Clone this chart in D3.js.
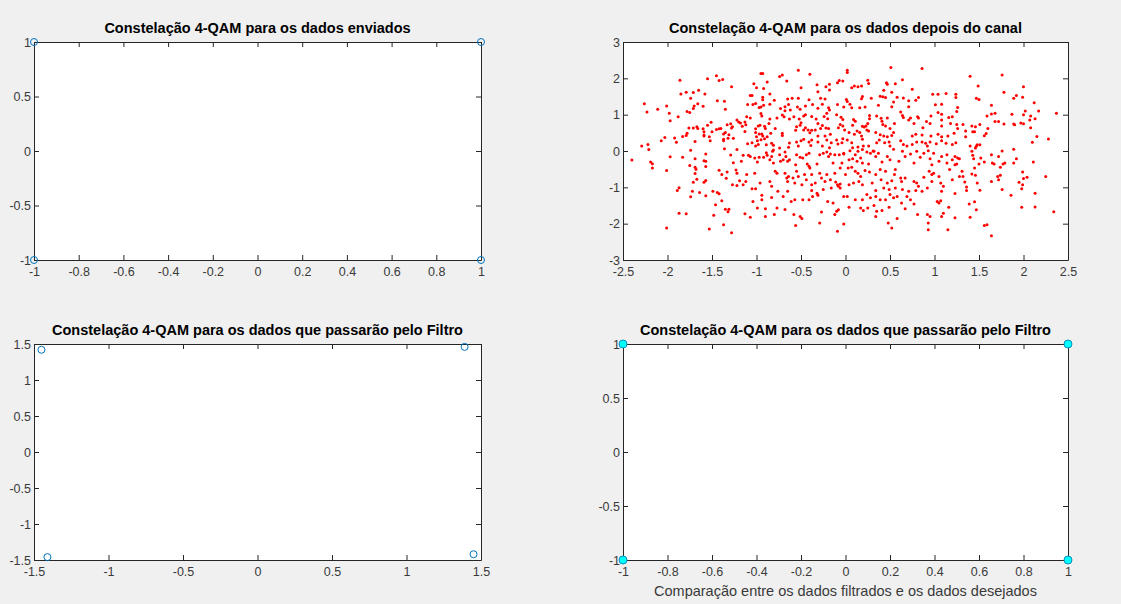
<!DOCTYPE html>
<html>
<head>
<meta charset="utf-8">
<script src="https://cdn.jsdelivr.net/npm/d3@7"></script>
<style>
body { margin: 0; background: #f0f0f0; }
svg text { font-family: "Liberation Sans", Arial, Helvetica, sans-serif; }
</style>
</head>
<body>
<script>
// dados enviados (4-QAM)
const sentI = [-1, 1, -1, 1];
const sentQ = [1, 1, -1, -1];

// dados que passarão pelo filtro
const filtI = [-1.45, 1.39, -1.41, 1.45];
const filtQ = [1.42, 1.46, -1.46, -1.42];

// dados filtrados (decisão)
const outI = [-1, 1, -1, 1];
const outQ = [1, 1, -1, -1];

// dados depois do canal [I, Q]
const canalPts = [
  [-1.86,1.95],[-1.55,1.99],[-1.45,2.07],[-1.42,1.94],[-1.38,1.97],[-1.28,1.77],
  [-1.85,1.57],[-1.79,1.62],[-1.71,1.61],[-1.65,1.67],[-1.58,1.57],
  [-1.74,1.45],[-1.44,1.38],[-1.36,1.37],
  [-2.26,1.30],[-2.01,1.24],[-2.23,1.07],[-2.11,1.15],[-1.98,1.04],[-1.88,0.94],[-1.78,1.09],[-1.75,1.06],[-1.71,1.17],[-1.70,1.24],[-1.66,1.30],[-1.60,1.23],[-1.35,1.15],
  [-1.97,0.83],
  [-1.55,0.71],[-1.51,0.79],[-1.76,0.63],[-1.71,0.63],[-1.67,0.67],[-1.66,0.62],[-1.60,0.61],[-1.59,0.53],[-1.59,0.44],[-1.50,0.53],[-1.45,0.59],[-1.42,0.61],[-1.40,0.62],[-1.33,0.72],[-1.29,0.75],[-1.28,0.63],[-1.27,0.67],
  [-1.78,0.49],[-1.79,0.43],[-1.83,0.40],[-1.92,0.36],[-2.03,0.37],[-2.07,0.28],[-1.90,0.24],[-1.69,0.26],[-1.59,0.41],[-1.53,0.39],[-1.52,0.28],[-1.37,0.47],[-1.35,0.51],[-1.31,0.45],[-1.37,0.32],[-1.37,0.28],[-1.32,0.35],[-1.26,0.35],
  [-2.29,0.14],[-2.22,0.18],[-2.21,0.04],[-1.74,0.02],[-1.36,0.06],
  [-2.40,-0.25],[-2.19,-0.30],[-2.17,-0.35],[-2.17,-0.47],[-1.97,-0.16],[-1.83,-0.17],[-1.57,-0.08],[-1.69,-0.21],[-1.59,-0.27],[-1.57,-0.28],[-1.29,-0.11],[-1.26,-0.32],
  [-2.01,-0.54],[-1.75,-0.40],[-1.69,-0.45],[-1.68,-0.50],[-1.69,-0.62],[-1.57,-0.43],[-1.67,-0.78],[-1.71,-0.86],[-1.59,-0.86],[-1.57,-0.81],[-1.42,-0.53],[-1.39,-0.65],[-1.33,-0.58],[-1.34,-0.75],[-1.27,-0.93],
  [-1.87,-1.01],[-1.89,-1.09],[-1.72,-1.11],[-1.64,-1.14],[-1.74,-1.26],[-1.57,-1.23],[-1.49,-1.11],[-1.44,-1.14],[-1.42,-1.18],[-1.39,-1.37],[-1.46,-1.48],
  [-1.35,-1.60],[-1.31,-1.60],[-1.32,-1.67],[-1.87,-1.71],[-1.79,-1.73],[-1.48,-1.77],[-1.37,-2.03],[-2.01,-2.12],[-1.53,-2.15],[-1.28,-2.25],
  [-0.53,2.22],[-0.40,2.11],[-0.93,2.13],[-0.95,2.13],[-0.71,2.09],[-0.74,2.05],[-0.66,1.93],[-0.88,1.90],[-1.03,1.85],[-1.00,1.74],[-0.92,1.72],[-0.50,1.74],[-0.32,1.82],[-0.22,1.77],[-0.18,1.84],[-0.07,1.94],[-0.09,1.88],[-0.03,1.93],
  [-1.07,1.53],[-1.05,1.53],[-0.85,1.57],[-0.93,1.48],[-0.93,1.41],[-0.80,1.40],[-0.65,1.43],[-0.60,1.45],[-0.53,1.45],[-0.31,1.63],[-0.41,1.41],[-0.28,1.45],[-0.23,1.43],[-0.18,1.68],
  [-1.10,1.28],[-1.04,1.28],[-1.01,1.31],[-0.97,1.20],[-0.95,1.21],[-0.92,1.26],[-0.85,1.29],[-0.64,1.28],[-0.68,1.22],[-0.73,1.17],[-0.68,1.11],[-0.62,1.13],[-0.54,1.21],[-0.51,1.15],[-0.45,1.24],[-0.37,1.28],[-0.31,1.18],[-0.26,1.29],[-0.19,1.19],[-0.18,1.13],[-0.09,1.28],
  [-1.22,0.85],[-1.20,0.80],[-1.18,0.77],[-1.13,0.80],[-1.11,0.94],[-1.07,0.91],[-0.95,1.03],[-0.94,0.96],[-0.85,0.88],[-0.86,0.76],[-0.77,0.91],[-0.71,0.99],[-0.69,0.94],[-0.63,0.88],[-0.58,0.94],[-0.52,0.88],[-0.47,0.96],[-0.45,1.00],[-0.38,0.95],[-0.33,0.88],[-0.24,0.95],[-0.21,1.04],[-0.20,0.89],[-0.10,1.00],[-0.05,0.93],[-0.03,0.87],
  [-1.16,0.68],[-1.12,0.72],[-1.13,0.54],[-1.01,0.61],[-1.01,0.51],[-0.98,0.69],[-0.96,0.71],[-0.91,0.68],[-0.90,0.62],[-1.00,0.39],[-0.97,0.47],[-0.94,0.47],[-0.99,0.28],[-0.95,0.31],[-0.93,0.41],[-0.91,0.34],[-0.88,0.39],[-0.79,0.62],[-0.84,0.49],[-0.71,0.49],[-0.71,0.43],[-0.55,0.67],[-0.51,0.71],[-0.50,0.78],[-0.56,0.57],[-0.47,0.58],[-0.45,0.64],[-0.42,0.58],[-0.40,0.50],[-0.38,0.57],[-0.34,0.58],[-0.31,0.76],[-0.28,0.62],[-0.26,0.70],[-0.22,0.63],[-0.19,0.62],[-0.17,0.46],[-0.08,0.64],[-0.06,0.73],[-0.03,0.69],[-0.01,0.58],
  [-1.10,0.20],[-1.05,0.23],[-1.01,0.14],[-0.98,0.18],[-0.89,0.17],[-0.83,0.21],[-0.81,0.16],[-0.81,0.03],[-0.74,0.08],[-0.63,0.22],[-0.64,0.10],[-0.55,0.25],[-0.53,0.14],[-0.50,0.28],[-0.47,0.32],[-0.41,0.25],[-0.39,0.15],[-0.38,0.30],[-0.31,0.41],[-0.31,0.25],[-0.26,0.14],[-0.23,0.41],[-0.21,0.30],[-0.18,0.09],[-0.16,0.23],[-0.10,0.30],[-0.085,0.19],[-0.03,0.34],
  [-1.22,0.04],[-1.15,-0.12],[-1.17,-0.28],[-1.23,-0.52],[-1.22,-0.61],[-1.09,-0.12],[-1.07,-0.15],[-1.02,-0.19],[-0.99,-0.30],[-0.97,-0.17],[-0.92,-0.17],[-0.89,-0.05],[-0.88,-0.12],[-0.85,-0.24],[-0.83,-0.15],[-0.82,-0.01],[-0.81,-0.33],[-0.79,-0.56],[-0.77,-0.61],[-0.74,-0.10],[-0.73,-0.28],[-0.70,-0.24],[-0.68,-0.03],[-0.67,-0.15],[-0.65,-0.28],[-0.63,-0.24],[-0.55,-0.10],[-0.56,-0.38],[-0.51,-0.17],[-0.48,-0.19],[-0.44,-0.10],[-0.41,-0.06],[-0.43,-0.36],[-0.41,-0.42],[-0.40,-0.47],[-0.38,-0.65],[-0.32,-0.36],[-0.29,-0.10],[-0.25,-0.06],[-0.21,-0.03],[-0.19,-0.15],[-0.17,-0.08],[-0.14,-0.33],[-0.12,-0.10],[-0.07,-0.10],[-0.04,-0.33],[-0.06,-0.47],[-0.02,-0.08],
  [-1.11,-0.65],[-1.12,-0.84],[-1.02,-0.61],[-1.19,-0.82],[-1.22,-0.95],[-1.15,-0.93],[-0.96,-0.88],[-1.05,-1.04],[-1.01,-1.04],[-0.85,-0.84],[-0.83,-0.97],[-0.68,-0.61],[-0.66,-0.74],[-0.65,-0.84],[-0.64,-0.70],[-0.59,-0.74],[-0.57,-0.88],[-0.55,-0.56],[-0.53,-0.70],[-0.49,-0.93],[-0.46,-0.65],[-0.44,-0.79],[-0.38,-0.93],[-0.34,-0.88],[-0.29,-0.61],[-0.27,-0.74],[-0.25,-1.06],[-0.23,-0.84],[-0.21,-0.65],[-0.17,-0.79],[-0.16,-1.02],[-0.12,-0.61],[-0.11,-0.85],[-0.09,-0.93],[-0.08,-0.97],[-0.06,-0.91],[-0.06,-1.02],[-0.02,-1.25],[-0.38,-1.09],[-0.32,-1.16],
  [-0.94,-1.22],[-0.94,-1.34],[-0.83,-1.28],[-0.76,-1.11],[-0.70,-1.25],[-0.65,-1.11],[-0.61,-1.39],[-0.57,-1.34],[-0.48,-1.34],[-0.41,-1.34],[-0.37,-1.25],[-0.31,-1.22],[-0.20,-1.39],[-0.14,-1.43],[-1.04,-1.39],[-0.99,-1.57],[-0.90,-1.59],[-0.77,-1.57],[-0.68,-1.61],[-1.13,-1.73],[-1.07,-1.82],[-0.90,-1.80],[-0.80,-1.75],[-0.58,-1.75],[-0.51,-1.80],[-0.49,-1.86],[-0.56,-2.05],[-0.29,-1.98],[-0.27,-1.68],[-0.12,-1.75],[-0.10,-1.66],[-0.08,-1.62],[-0.02,-2.01],[-0.09,-2.21],
  [0.51,2.30],[0.86,2.27],[0.02,2.22],[0.02,2.16],[0.25,1.95],[0.26,1.86],[0.46,1.88],[0.47,1.84],[0.56,1.85],[0.64,1.96],[0.10,1.79],[0.07,1.74],[0.14,1.77],[0.18,1.79],[0.43,1.67],[0.52,1.62],[0.75,1.70],[0.39,1.51],[0.42,1.49],[0.45,1.47],[0.19,1.50],[0.18,1.44],[0.29,1.45],[0.58,1.48],[0.65,1.46],[0.71,1.38],[0.79,1.40],[0.82,1.47],[0.98,1.56],[1.04,1.56],[1.13,1.58],[1.24,1.56],
  [0.01,1.42],[0.02,1.36],[0.05,1.29],[-0.02,1.21],[0.07,1.19],[0.16,1.19],[0.22,1.21],[0.37,1.26],[0.54,1.35],[0.52,1.22],[0.71,1.22],[1.01,1.27],[1.08,1.29],[0.62,1.07],[0.64,0.98],[0.73,0.91],[0.81,0.94],[0.96,0.96],[1.04,1.06],[1.08,1.01],[1.16,0.92],[1.20,0.94],[1.25,1.09],[1.26,1.20],
  [0.09,0.87],[0.11,0.82],[0.27,0.98],[0.27,0.89],[0.35,0.96],[0.40,0.90],[0.41,0.82],[0.47,0.91],[0.55,0.76],[0.25,0.76],[0.19,0.68],[0.21,0.66],[0.23,0.69],[0.24,0.58],[0.08,0.71],[0.04,0.51],[0.13,0.55],[0.10,0.46],[0.16,0.51],[0.18,0.41],[0.26,0.55],[0.34,0.51],[0.39,0.45],[0.42,0.73],[0.45,0.69],[0.50,0.62],[0.54,0.51],[0.43,0.41],[0.38,0.30],[0.47,0.39],[0.52,0.43],[0.65,0.92],[0.71,0.85],[0.77,0.76],[0.82,0.91],[0.91,0.81],[0.95,0.76],[1.08,0.85],[1.08,0.69],[1.18,0.76],[0.75,0.41],[0.79,0.46],[0.86,0.44],[0.87,0.64],[0.96,0.41],[1.04,0.46],[1.08,0.39],[1.15,0.41],[1.22,0.49],
  [-0.04,0.23],[0.02,0.30],[0.07,0.23],[0.08,0.09],[0.14,0.11],[0.19,0.32],[0.20,0.14],[0.26,0.14],[0.31,0.00],[0.35,0.23],[0.44,0.23],[0.49,0.25],[0.50,0.14],[0.54,0.05],[0.62,0.28],[0.65,0.18],[0.69,0.14],[0.75,0.18],[0.80,0.25],[0.86,0.25],[0.90,0.21],[0.92,0.14],[0.95,0.25],[1.02,0.20],[1.08,0.28],[1.13,0.21],[1.20,0.18],[1.24,0.23],
  [-0.02,-0.06],[0.05,0.01],[0.11,-0.10],[0.14,-0.01],[0.17,-0.19],[0.19,0.04],[0.24,-0.03],[0.28,-0.06],[0.32,-0.01],[0.34,-0.15],[0.04,-0.24],[0.08,-0.21],[0.13,-0.28],[0.19,-0.33],[0.03,-0.47],[0.07,-0.45],[0.26,-0.36],[0.37,-0.06],[0.41,-0.30],[0.47,-0.15],[0.50,-0.24],[0.60,-0.28],[0.64,-0.01],[0.67,-0.15],[0.73,-0.08],[0.77,-0.33],[0.80,-0.01],[0.84,-0.17],[0.88,-0.06],[0.93,0.01],[0.99,-0.06],[0.95,-0.21],[0.97,-0.38],[1.05,-0.28],[1.08,-0.15],[1.14,-0.10],[1.20,-0.24],[1.23,-0.15],[1.25,-0.36],[1.14,-0.33],
  [0.00,-0.65],[0.11,-0.56],[0.14,-0.61],[0.17,-0.70],[0.22,-0.54],[0.27,-0.58],[0.34,-0.65],[0.39,-0.51],[0.40,-0.79],[0.45,-0.56],[0.47,-0.88],[0.52,-0.82],[0.56,-0.51],[0.55,-0.65],[0.62,-0.74],[0.63,-0.84],[0.67,-0.74],[0.77,-0.84],[0.80,-0.88],[0.82,-0.97],[0.88,-0.72],[0.92,-1.02],[0.94,-0.56],[0.97,-0.65],[0.99,-0.61],[1.05,-0.70],[1.07,-0.88],[1.08,-1.11],[1.10,-0.97],[1.17,-0.51],[1.20,-0.79],[1.23,-0.38],[0.04,-0.93],[0.09,-0.88],[0.15,-0.84],[0.19,-0.93],[0.30,-0.88],[0.34,-1.09],[0.43,-1.02],[0.49,-1.06],[0.56,-1.02],[0.64,-1.06],[0.71,-1.11],[0.79,-1.09],[0.86,-1.11],[0.97,-0.84],
  [0.02,-1.25],[0.11,-1.34],[0.19,-1.34],[0.24,-1.20],[0.28,-1.29],[0.34,-1.25],[0.39,-1.34],[0.45,-1.34],[0.50,-1.20],[0.54,-1.29],[0.58,-1.25],[0.69,-1.25],[0.73,-1.34],[0.04,-1.55],[0.17,-1.57],[0.20,-1.64],[0.25,-1.57],[0.32,-1.50],[0.35,-1.66],[0.41,-1.64],[0.49,-1.55],[0.63,-1.43],[0.67,-1.59],[0.77,-1.46],[1.03,-1.39],[1.05,-1.43],[1.07,-1.37],[1.16,-1.55],[1.10,-1.71],[0.81,-1.75],[0.92,-1.75],[0.95,-1.80],[1.08,-1.80],[1.23,-1.84],[0.34,-1.80],[0.48,-1.98],[0.52,-2.12],[0.58,-1.86],[0.93,-1.98],[0.93,-2.17],[1.15,-2.17],
  [1.40,2.06],[1.76,2.09],[1.49,1.79],[1.78,1.62],[2.00,1.77],[1.24,1.47],[1.47,1.45],[1.50,1.42],[1.89,1.45],[1.92,1.53],[1.99,1.48],[1.64,1.26],[2.12,1.33],[2.02,1.10],[2.17,1.10],[2.37,1.04],[1.59,0.96],[1.64,1.02],[1.68,1.04],[1.87,1.01],[2.00,1.00],[2.08,0.96],[1.68,0.81],[1.72,0.81],[1.78,0.74],[1.89,0.74],[1.90,0.72],[1.97,0.77],[2.00,0.75],[2.07,0.85],[2.13,0.89],[1.25,0.73],[1.32,0.73],[1.26,0.62],[1.42,0.69],[1.46,0.67],[1.51,0.73],[1.60,0.62],[1.35,0.55],[1.43,0.53],[1.45,0.53],[1.58,0.48],[1.56,0.42],[1.35,0.39],[2.08,0.64],[2.15,0.40],[2.28,0.33],[1.40,0.14],[1.48,0.17],[1.51,0.17],[1.47,0.13],[1.76,0.00],[1.89,0.05],[2.10,0.24],
  [1.26,-0.19],[1.28,-0.21],[1.42,-0.01],[1.43,-0.12],[1.44,-0.21],[1.46,0.08],[1.52,-0.19],[1.50,-0.36],[1.56,-0.30],[1.64,-0.10],[1.65,-0.33],[1.67,-0.36],[1.72,-0.15],[1.77,-0.36],[1.74,-0.45],[1.79,-0.33],[1.89,-0.33],[1.92,-0.21],[2.11,-0.30],[1.31,-0.56],[1.28,-0.70],[1.32,-0.70],[1.42,-0.63],[1.45,-0.47],[1.46,-0.67],[1.34,-0.85],[1.48,-0.88],[1.36,-0.99],[1.36,-1.09],[1.51,-1.08],[1.64,-0.84],[1.71,-0.70],[1.74,-0.67],[1.72,-0.79],[1.76,-1.06],[1.99,-0.58],[1.95,-0.86],[1.99,-0.93],[2.00,-0.76],[2.04,-0.72],[1.98,-1.04],[2.25,-0.70],[1.86,-1.22],[2.13,-1.16],[1.23,-1.17],[1.39,-1.46],[1.45,-1.40],[1.47,-1.62],[1.40,-1.82],[1.98,-1.55],[2.13,-1.54],[2.34,-1.67],[1.56,-2.05],[1.59,-2.03],[1.64,-2.33]
];

// tick values
const ticks1x = [-1, -0.8, -0.6, -0.4, -0.2, 0, 0.2, 0.4, 0.6, 0.8, 1];
const ticks1y = [-1, -0.5, 0, 0.5, 1];
const ticksCx = [-2.5, -2, -1.5, -1, -0.5, 0, 0.5, 1, 1.5, 2, 2.5];
const ticksCy = [-3, -2, -1, 0, 1, 2, 3];
const ticks15 = [-1.5, -1, -0.5, 0, 0.5, 1, 1.5];

const titles = [
  "Constelação 4-QAM para os dados enviados",
  "Constelação 4-QAM para os dados depois do canal",
  "Constelação 4-QAM para os dados que passarão pelo Filtro",
  "Constelação 4-QAM para os dados que passarão pelo Filtro"
];
const xLabelBR = "Comparação entre os dados filtrados e os dados desejados";

const axisColor = "#262626";

let svg = d3.select("body").append("svg")
  .attr("width", 1121)
  .attr("height", 604);

// desenha um eixo estilo matlab (caixa com ticks para dentro)
function panel(opt) {
  const x = d3.scaleLinear().domain(opt.xd).range([0, opt.w]);
  const y = d3.scaleLinear().domain(opt.yd).range([opt.h, 0]);
  const g = svg.append("g").attr("transform", `translate(${opt.left},${opt.top})`);

  g.append("rect").attr("width", opt.w).attr("height", opt.h).attr("fill", "#fff");

  const fmt = d => String(d);
  g.append("g").attr("transform", `translate(0,${opt.h})`)
    .call(d3.axisBottom(x).tickValues(opt.xt).tickFormat(fmt).tickSizeInner(-5).tickSizeOuter(0).tickPadding(7));
  g.append("g")
    .call(d3.axisTop(x).tickValues(opt.xt).tickFormat("").tickSizeInner(-5).tickSizeOuter(0));
  g.append("g")
    .call(d3.axisLeft(y).tickValues(opt.yt).tickFormat(fmt).tickSizeInner(-5).tickSizeOuter(0).tickPadding(3));
  g.append("g").attr("transform", `translate(${opt.w},0)`)
    .call(d3.axisRight(y).tickValues(opt.yt).tickFormat("").tickSizeInner(-5).tickSizeOuter(0));

  g.selectAll(".domain, .tick line").attr("stroke", axisColor).attr("stroke-width", 1);
  g.selectAll(".tick text").attr("fill", "#3a3a3a").style("font-size", "12.5px");

  g.append("text")
    .attr("x", opt.w / 2)
    .attr("y", -9)
    .attr("text-anchor", "middle")
    .attr("fill", "#000")
    .style("font-size", "14.5px")
    .style("font-weight", "bold")
    .text(opt.title);

  return {g, x, y};
}

// 1 - dados enviados
let p1 = panel({left: 34, top: 42, w: 447, h: 218, xd: [-1, 1], yd: [-1, 1], xt: ticks1x, yt: ticks1y, title: titles[0]});
p1.g.selectAll(".pt").data(sentI).enter().append("circle")
  .attr("cx", d => p1.x(d))
  .attr("cy", (d, i) => p1.y(sentQ[i]))
  .attr("r", 3.5)
  .attr("fill", "none")
  .attr("stroke", "#0072BD")
  .attr("stroke-width", 1);

// 2 - depois do canal
let p2 = panel({left: 623, top: 42, w: 445, h: 218, xd: [-2.5, 2.5], yd: [-3, 3], xt: ticksCx, yt: ticksCy, title: titles[1]});
p2.g.selectAll(".pt").data(canalPts).enter().append("circle")
  .attr("cx", d => p2.x(d[0]))
  .attr("cy", d => p2.y(d[1]))
  .attr("r", 1.5)
  .attr("fill", "#ff0000");

// 3 - antes do filtro
let p3 = panel({left: 34, top: 344, w: 447, h: 216, xd: [-1.5, 1.5], yd: [-1.5, 1.5], xt: ticks15, yt: ticks15, title: titles[2]});
p3.g.selectAll(".pt").data(filtI).enter().append("circle")
  .attr("cx", d => p3.x(d))
  .attr("cy", (d, i) => p3.y(filtQ[i]))
  .attr("r", 3.5)
  .attr("fill", "none")
  .attr("stroke", "#0072BD")
  .attr("stroke-width", 1);

// 4 - comparação
let p4 = panel({left: 623, top: 344, w: 445, h: 216, xd: [-1, 1], yd: [-1, 1], xt: ticks1x, yt: ticks1y, title: titles[3]});
p4.g.selectAll(".pt").data(outI).enter().append("circle")
  .attr("cx", d => p4.x(d))
  .attr("cy", (d, i) => p4.y(outQ[i]))
  .attr("r", 4)
  .attr("fill", "#00ffff")
  .attr("stroke", "#0a8fc0")
  .attr("stroke-width", 1);

p4.g.append("text")
  .attr("x", 445 / 2)
  .attr("y", 252)
  .attr("text-anchor", "middle")
  .attr("fill", "#3a3a3a")
  .style("font-size", "14.5px")
  .text(xLabelBR);
</script>
</body>
</html>
